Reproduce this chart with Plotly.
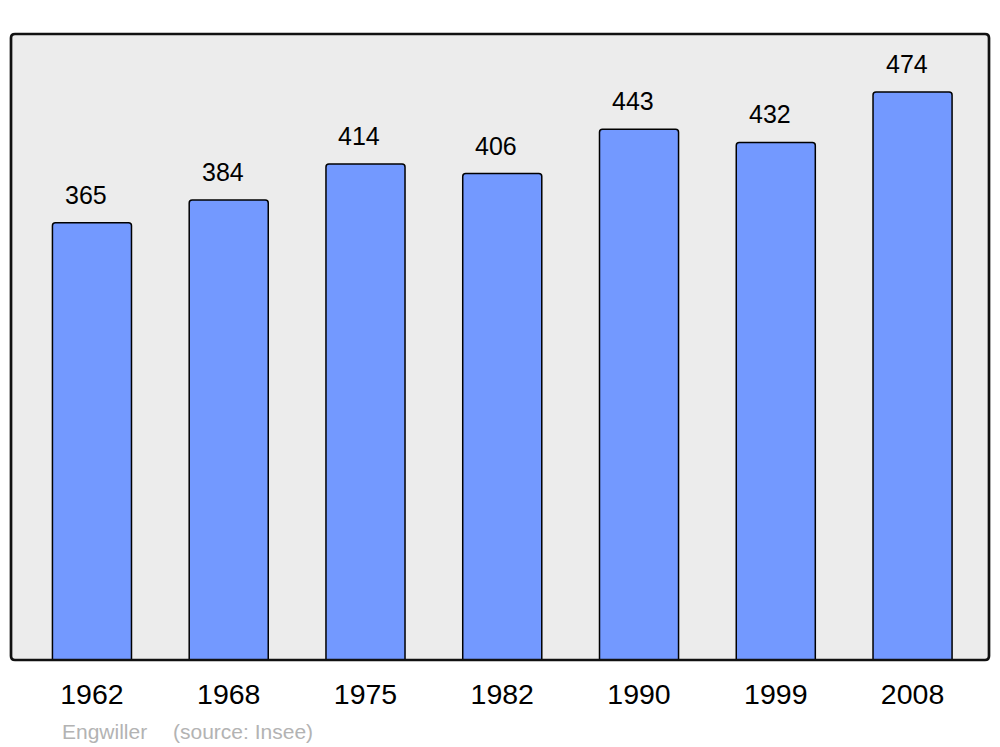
import plotly.graph_objects as go

years = ["1962", "1968", "1975", "1982", "1990", "1999", "2008"]
population = [365, 384, 414, 406, 443, 432, 474]

W, H = 1000, 747
ml, mr, mt, mb = 11, 11, 34, 87
pw, ph = W - ml - mr, H - mt - mb

fig = go.Figure()
fig.add_trace(go.Bar(
    x=years, y=population, width=0.578,
    marker=dict(color="#7399ff", line=dict(color="#000000", width=1.5), cornerradius=3),
    hoverinfo="x+y",
))

for i, v in enumerate(population):
    fig.add_annotation(x=i, y=v, text=str(v), showarrow=False, yanchor="bottom",
                       xshift=-6, yshift=12, font=dict(family="Liberation Sans, Arial", size=25, color="#000"))

fig.add_annotation(xref="paper", yref="paper", x=(60 - ml) / pw, y=-(731 - (H - mb)) / ph,
                   xanchor="left", yanchor="middle", text="Engwiller", showarrow=False,
                   font=dict(family="Liberation Sans, Arial", size=21, color="#b3b3b3"))
fig.add_annotation(xref="paper", yref="paper", x=(171 - ml) / pw, y=-(731 - (H - mb)) / ph,
                   xanchor="left", yanchor="middle", text="(source: Insee)", showarrow=False,
                   font=dict(family="Liberation Sans, Arial", size=21, color="#b3b3b3"))

rx, ry = 4 / pw, 4 / ph
path = (f"M {rx},0 L {1-rx},0 Q 1,0 1,{ry} L 1,{1-ry} Q 1,1 {1-rx},1 "
        f"L {rx},1 Q 0,1 0,{1-ry} L 0,{ry} Q 0,0 {rx},0 Z")
fig.add_shape(type="path", xref="paper", yref="paper", path=path, fillcolor="#ececec",
              line=dict(width=0), layer="below")
fig.add_shape(type="path", xref="paper", yref="paper", path=path,
              line=dict(color="#111111", width=2.7), layer="above")

fig.update_layout(
    width=W, height=H, margin=dict(l=ml, r=mr, t=mt, b=mb),
    paper_bgcolor="white", plot_bgcolor="rgba(0,0,0,0)",
    showlegend=False,
    xaxis=dict(type="category", range=[-0.592, 6.559], showgrid=False, zeroline=False,
               showline=False, ticks="", ticklabelstandoff=14,
               tickfont=dict(family="Liberation Sans, Arial", size=28.5, color="#000"),
               fixedrange=True),
    yaxis=dict(range=[0, 522.5], visible=False, showgrid=False, fixedrange=True),
)

fig.write_html("out.html", config={"displayModeBar": False},
               post_script="document.body.style.margin='0';document.body.style.overflow='hidden';")
